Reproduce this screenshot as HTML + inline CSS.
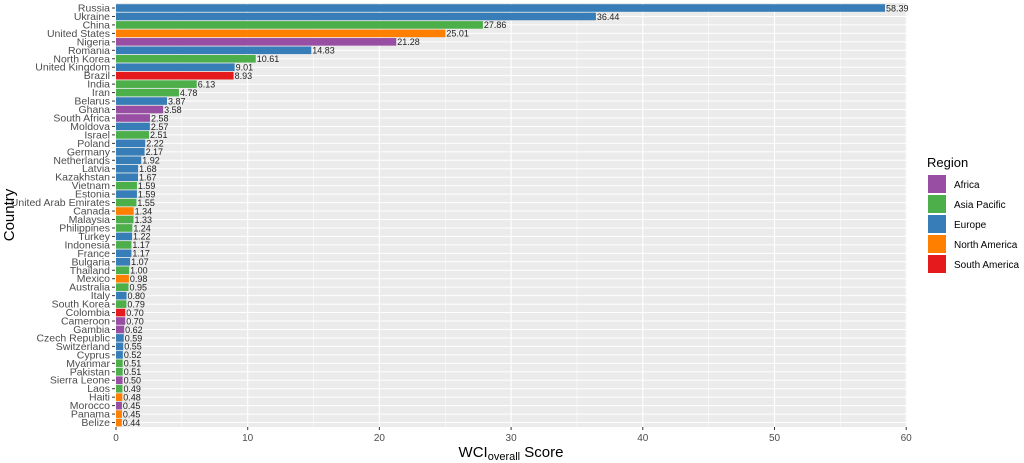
<!DOCTYPE html>
<html><head><meta charset="utf-8"><style>
body{margin:0;background:#fff}
svg{display:block;font-family:"Liberation Sans",Arial,sans-serif}
.l{font-size:10.5px;fill:#4d4d4d;text-anchor:end}
.v{font-size:9px;fill:#222}
.e{fill:#377EB8}.a{fill:#4DAF4A}.n{fill:#FF7F00}.f{fill:#984EA3}.s{fill:#E41A1C}
</style></head><body>
<svg width="1024" height="463" viewBox="0 0 1024 463">
<rect x="116" y="3" width="791" height="424" fill="#EBEBEB"/>
<g stroke="#fff" stroke-width="0.5">
<line x1="181.9" y1="3" x2="181.9" y2="427"/><line x1="313.6" y1="3" x2="313.6" y2="427"/><line x1="445.3" y1="3" x2="445.3" y2="427"/><line x1="577" y1="3" x2="577" y2="427"/><line x1="708.7" y1="3" x2="708.7" y2="427"/><line x1="840.4" y1="3" x2="840.4" y2="427"/>
</g>
<g stroke="#fff" stroke-width="1.1">
<line x1="116" y1="3" x2="116" y2="427"/><line x1="247.7" y1="3" x2="247.7" y2="427"/><line x1="379.4" y1="3" x2="379.4" y2="427"/><line x1="511.1" y1="3" x2="511.1" y2="427"/><line x1="642.8" y1="3" x2="642.8" y2="427"/><line x1="774.5" y1="3" x2="774.5" y2="427"/><line x1="906.2" y1="3" x2="906.2" y2="427"/>
</g>
<g stroke="#fff" stroke-width="1">
<line x1="116" x2="907" y1="8" y2="8"/><line x1="116" x2="907" y1="16.46" y2="16.46"/><line x1="116" x2="907" y1="24.92" y2="24.92"/><line x1="116" x2="907" y1="33.38" y2="33.38"/><line x1="116" x2="907" y1="41.84" y2="41.84"/><line x1="116" x2="907" y1="50.3" y2="50.3"/><line x1="116" x2="907" y1="58.76" y2="58.76"/><line x1="116" x2="907" y1="67.22" y2="67.22"/><line x1="116" x2="907" y1="75.68" y2="75.68"/><line x1="116" x2="907" y1="84.14" y2="84.14"/><line x1="116" x2="907" y1="92.6" y2="92.6"/><line x1="116" x2="907" y1="101.06" y2="101.06"/><line x1="116" x2="907" y1="109.52" y2="109.52"/><line x1="116" x2="907" y1="117.98" y2="117.98"/><line x1="116" x2="907" y1="126.44" y2="126.44"/><line x1="116" x2="907" y1="134.9" y2="134.9"/><line x1="116" x2="907" y1="143.36" y2="143.36"/><line x1="116" x2="907" y1="151.82" y2="151.82"/><line x1="116" x2="907" y1="160.28" y2="160.28"/><line x1="116" x2="907" y1="168.74" y2="168.74"/><line x1="116" x2="907" y1="177.2" y2="177.2"/><line x1="116" x2="907" y1="185.66" y2="185.66"/><line x1="116" x2="907" y1="194.12" y2="194.12"/><line x1="116" x2="907" y1="202.58" y2="202.58"/><line x1="116" x2="907" y1="211.04" y2="211.04"/><line x1="116" x2="907" y1="219.5" y2="219.5"/><line x1="116" x2="907" y1="227.96" y2="227.96"/><line x1="116" x2="907" y1="236.42" y2="236.42"/><line x1="116" x2="907" y1="244.88" y2="244.88"/><line x1="116" x2="907" y1="253.34" y2="253.34"/><line x1="116" x2="907" y1="261.8" y2="261.8"/><line x1="116" x2="907" y1="270.26" y2="270.26"/><line x1="116" x2="907" y1="278.72" y2="278.72"/><line x1="116" x2="907" y1="287.18" y2="287.18"/><line x1="116" x2="907" y1="295.64" y2="295.64"/><line x1="116" x2="907" y1="304.1" y2="304.1"/><line x1="116" x2="907" y1="312.56" y2="312.56"/><line x1="116" x2="907" y1="321.02" y2="321.02"/><line x1="116" x2="907" y1="329.48" y2="329.48"/><line x1="116" x2="907" y1="337.94" y2="337.94"/><line x1="116" x2="907" y1="346.4" y2="346.4"/><line x1="116" x2="907" y1="354.86" y2="354.86"/><line x1="116" x2="907" y1="363.32" y2="363.32"/><line x1="116" x2="907" y1="371.78" y2="371.78"/><line x1="116" x2="907" y1="380.24" y2="380.24"/><line x1="116" x2="907" y1="388.7" y2="388.7"/><line x1="116" x2="907" y1="397.16" y2="397.16"/><line x1="116" x2="907" y1="405.62" y2="405.62"/><line x1="116" x2="907" y1="414.08" y2="414.08"/><line x1="116" x2="907" y1="422.54" y2="422.54"/>
</g>
<g transform="translate(0,8)"><text x="110" y="3.5" class="l">Russia</text><line x1="112" x2="115" stroke="#333"/><g transform="translate(116,0) scale(13.17,1)"><rect y="-3.8" height="7.6" width="58.39" class="e"/><g transform="translate(58.39,0) scale(.07593,1)"><text x="1" y="3.3" class="v">58.39</text></g></g></g>
<g transform="translate(0,16.46)"><text x="110" y="3.5" class="l">Ukraine</text><line x1="112" x2="115" stroke="#333"/><g transform="translate(116,0) scale(13.17,1)"><rect y="-3.8" height="7.6" width="36.44" class="e"/><g transform="translate(36.44,0) scale(.07593,1)"><text x="1" y="3.3" class="v">36.44</text></g></g></g>
<g transform="translate(0,24.92)"><text x="110" y="3.5" class="l">China</text><line x1="112" x2="115" stroke="#333"/><g transform="translate(116,0) scale(13.17,1)"><rect y="-3.8" height="7.6" width="27.86" class="a"/><g transform="translate(27.86,0) scale(.07593,1)"><text x="1" y="3.3" class="v">27.86</text></g></g></g>
<g transform="translate(0,33.38)"><text x="110" y="3.5" class="l">United States</text><line x1="112" x2="115" stroke="#333"/><g transform="translate(116,0) scale(13.17,1)"><rect y="-3.8" height="7.6" width="25.01" class="n"/><g transform="translate(25.01,0) scale(.07593,1)"><text x="1" y="3.3" class="v">25.01</text></g></g></g>
<g transform="translate(0,41.84)"><text x="110" y="3.5" class="l">Nigeria</text><line x1="112" x2="115" stroke="#333"/><g transform="translate(116,0) scale(13.17,1)"><rect y="-3.8" height="7.6" width="21.28" class="f"/><g transform="translate(21.28,0) scale(.07593,1)"><text x="1" y="3.3" class="v">21.28</text></g></g></g>
<g transform="translate(0,50.3)"><text x="110" y="3.5" class="l">Romania</text><line x1="112" x2="115" stroke="#333"/><g transform="translate(116,0) scale(13.17,1)"><rect y="-3.8" height="7.6" width="14.83" class="e"/><g transform="translate(14.83,0) scale(.07593,1)"><text x="1" y="3.3" class="v">14.83</text></g></g></g>
<g transform="translate(0,58.76)"><text x="110" y="3.5" class="l">North Korea</text><line x1="112" x2="115" stroke="#333"/><g transform="translate(116,0) scale(13.17,1)"><rect y="-3.8" height="7.6" width="10.61" class="a"/><g transform="translate(10.61,0) scale(.07593,1)"><text x="1" y="3.3" class="v">10.61</text></g></g></g>
<g transform="translate(0,67.22)"><text x="110" y="3.5" class="l">United Kingdom</text><line x1="112" x2="115" stroke="#333"/><g transform="translate(116,0) scale(13.17,1)"><rect y="-3.8" height="7.6" width="9.01" class="e"/><g transform="translate(9.01,0) scale(.07593,1)"><text x="1" y="3.3" class="v">9.01</text></g></g></g>
<g transform="translate(0,75.68)"><text x="110" y="3.5" class="l">Brazil</text><line x1="112" x2="115" stroke="#333"/><g transform="translate(116,0) scale(13.17,1)"><rect y="-3.8" height="7.6" width="8.93" class="s"/><g transform="translate(8.93,0) scale(.07593,1)"><text x="1" y="3.3" class="v">8.93</text></g></g></g>
<g transform="translate(0,84.14)"><text x="110" y="3.5" class="l">India</text><line x1="112" x2="115" stroke="#333"/><g transform="translate(116,0) scale(13.17,1)"><rect y="-3.8" height="7.6" width="6.13" class="a"/><g transform="translate(6.13,0) scale(.07593,1)"><text x="1" y="3.3" class="v">6.13</text></g></g></g>
<g transform="translate(0,92.6)"><text x="110" y="3.5" class="l">Iran</text><line x1="112" x2="115" stroke="#333"/><g transform="translate(116,0) scale(13.17,1)"><rect y="-3.8" height="7.6" width="4.78" class="a"/><g transform="translate(4.78,0) scale(.07593,1)"><text x="1" y="3.3" class="v">4.78</text></g></g></g>
<g transform="translate(0,101.06)"><text x="110" y="3.5" class="l">Belarus</text><line x1="112" x2="115" stroke="#333"/><g transform="translate(116,0) scale(13.17,1)"><rect y="-3.8" height="7.6" width="3.87" class="e"/><g transform="translate(3.87,0) scale(.07593,1)"><text x="1" y="3.3" class="v">3.87</text></g></g></g>
<g transform="translate(0,109.52)"><text x="110" y="3.5" class="l">Ghana</text><line x1="112" x2="115" stroke="#333"/><g transform="translate(116,0) scale(13.17,1)"><rect y="-3.8" height="7.6" width="3.58" class="f"/><g transform="translate(3.58,0) scale(.07593,1)"><text x="1" y="3.3" class="v">3.58</text></g></g></g>
<g transform="translate(0,117.98)"><text x="110" y="3.5" class="l">South Africa</text><line x1="112" x2="115" stroke="#333"/><g transform="translate(116,0) scale(13.17,1)"><rect y="-3.8" height="7.6" width="2.58" class="f"/><g transform="translate(2.58,0) scale(.07593,1)"><text x="1" y="3.3" class="v">2.58</text></g></g></g>
<g transform="translate(0,126.44)"><text x="110" y="3.5" class="l">Moldova</text><line x1="112" x2="115" stroke="#333"/><g transform="translate(116,0) scale(13.17,1)"><rect y="-3.8" height="7.6" width="2.57" class="e"/><g transform="translate(2.57,0) scale(.07593,1)"><text x="1" y="3.3" class="v">2.57</text></g></g></g>
<g transform="translate(0,134.9)"><text x="110" y="3.5" class="l">Israel</text><line x1="112" x2="115" stroke="#333"/><g transform="translate(116,0) scale(13.17,1)"><rect y="-3.8" height="7.6" width="2.51" class="a"/><g transform="translate(2.51,0) scale(.07593,1)"><text x="1" y="3.3" class="v">2.51</text></g></g></g>
<g transform="translate(0,143.36)"><text x="110" y="3.5" class="l">Poland</text><line x1="112" x2="115" stroke="#333"/><g transform="translate(116,0) scale(13.17,1)"><rect y="-3.8" height="7.6" width="2.22" class="e"/><g transform="translate(2.22,0) scale(.07593,1)"><text x="1" y="3.3" class="v">2.22</text></g></g></g>
<g transform="translate(0,151.82)"><text x="110" y="3.5" class="l">Germany</text><line x1="112" x2="115" stroke="#333"/><g transform="translate(116,0) scale(13.17,1)"><rect y="-3.8" height="7.6" width="2.17" class="e"/><g transform="translate(2.17,0) scale(.07593,1)"><text x="1" y="3.3" class="v">2.17</text></g></g></g>
<g transform="translate(0,160.28)"><text x="110" y="3.5" class="l">Netherlands</text><line x1="112" x2="115" stroke="#333"/><g transform="translate(116,0) scale(13.17,1)"><rect y="-3.8" height="7.6" width="1.92" class="e"/><g transform="translate(1.92,0) scale(.07593,1)"><text x="1" y="3.3" class="v">1.92</text></g></g></g>
<g transform="translate(0,168.74)"><text x="110" y="3.5" class="l">Latvia</text><line x1="112" x2="115" stroke="#333"/><g transform="translate(116,0) scale(13.17,1)"><rect y="-3.8" height="7.6" width="1.68" class="e"/><g transform="translate(1.68,0) scale(.07593,1)"><text x="1" y="3.3" class="v">1.68</text></g></g></g>
<g transform="translate(0,177.2)"><text x="110" y="3.5" class="l">Kazakhstan</text><line x1="112" x2="115" stroke="#333"/><g transform="translate(116,0) scale(13.17,1)"><rect y="-3.8" height="7.6" width="1.67" class="e"/><g transform="translate(1.67,0) scale(.07593,1)"><text x="1" y="3.3" class="v">1.67</text></g></g></g>
<g transform="translate(0,185.66)"><text x="110" y="3.5" class="l">Vietnam</text><line x1="112" x2="115" stroke="#333"/><g transform="translate(116,0) scale(13.17,1)"><rect y="-3.8" height="7.6" width="1.59" class="a"/><g transform="translate(1.59,0) scale(.07593,1)"><text x="1" y="3.3" class="v">1.59</text></g></g></g>
<g transform="translate(0,194.12)"><text x="110" y="3.5" class="l">Estonia</text><line x1="112" x2="115" stroke="#333"/><g transform="translate(116,0) scale(13.17,1)"><rect y="-3.8" height="7.6" width="1.59" class="e"/><g transform="translate(1.59,0) scale(.07593,1)"><text x="1" y="3.3" class="v">1.59</text></g></g></g>
<g transform="translate(0,202.58)"><text x="110" y="3.5" class="l">United Arab Emirates</text><line x1="112" x2="115" stroke="#333"/><g transform="translate(116,0) scale(13.17,1)"><rect y="-3.8" height="7.6" width="1.55" class="a"/><g transform="translate(1.55,0) scale(.07593,1)"><text x="1" y="3.3" class="v">1.55</text></g></g></g>
<g transform="translate(0,211.04)"><text x="110" y="3.5" class="l">Canada</text><line x1="112" x2="115" stroke="#333"/><g transform="translate(116,0) scale(13.17,1)"><rect y="-3.8" height="7.6" width="1.34" class="n"/><g transform="translate(1.34,0) scale(.07593,1)"><text x="1" y="3.3" class="v">1.34</text></g></g></g>
<g transform="translate(0,219.5)"><text x="110" y="3.5" class="l">Malaysia</text><line x1="112" x2="115" stroke="#333"/><g transform="translate(116,0) scale(13.17,1)"><rect y="-3.8" height="7.6" width="1.33" class="a"/><g transform="translate(1.33,0) scale(.07593,1)"><text x="1" y="3.3" class="v">1.33</text></g></g></g>
<g transform="translate(0,227.96)"><text x="110" y="3.5" class="l">Philippines</text><line x1="112" x2="115" stroke="#333"/><g transform="translate(116,0) scale(13.17,1)"><rect y="-3.8" height="7.6" width="1.24" class="a"/><g transform="translate(1.24,0) scale(.07593,1)"><text x="1" y="3.3" class="v">1.24</text></g></g></g>
<g transform="translate(0,236.42)"><text x="110" y="3.5" class="l">Turkey</text><line x1="112" x2="115" stroke="#333"/><g transform="translate(116,0) scale(13.17,1)"><rect y="-3.8" height="7.6" width="1.22" class="e"/><g transform="translate(1.22,0) scale(.07593,1)"><text x="1" y="3.3" class="v">1.22</text></g></g></g>
<g transform="translate(0,244.88)"><text x="110" y="3.5" class="l">Indonesia</text><line x1="112" x2="115" stroke="#333"/><g transform="translate(116,0) scale(13.17,1)"><rect y="-3.8" height="7.6" width="1.17" class="a"/><g transform="translate(1.17,0) scale(.07593,1)"><text x="1" y="3.3" class="v">1.17</text></g></g></g>
<g transform="translate(0,253.34)"><text x="110" y="3.5" class="l">France</text><line x1="112" x2="115" stroke="#333"/><g transform="translate(116,0) scale(13.17,1)"><rect y="-3.8" height="7.6" width="1.17" class="e"/><g transform="translate(1.17,0) scale(.07593,1)"><text x="1" y="3.3" class="v">1.17</text></g></g></g>
<g transform="translate(0,261.8)"><text x="110" y="3.5" class="l">Bulgaria</text><line x1="112" x2="115" stroke="#333"/><g transform="translate(116,0) scale(13.17,1)"><rect y="-3.8" height="7.6" width="1.07" class="e"/><g transform="translate(1.07,0) scale(.07593,1)"><text x="1" y="3.3" class="v">1.07</text></g></g></g>
<g transform="translate(0,270.26)"><text x="110" y="3.5" class="l">Thailand</text><line x1="112" x2="115" stroke="#333"/><g transform="translate(116,0) scale(13.17,1)"><rect y="-3.8" height="7.6" width="1.00" class="a"/><g transform="translate(1.00,0) scale(.07593,1)"><text x="1" y="3.3" class="v">1.00</text></g></g></g>
<g transform="translate(0,278.72)"><text x="110" y="3.5" class="l">Mexico</text><line x1="112" x2="115" stroke="#333"/><g transform="translate(116,0) scale(13.17,1)"><rect y="-3.8" height="7.6" width="0.98" class="n"/><g transform="translate(0.98,0) scale(.07593,1)"><text x="1" y="3.3" class="v">0.98</text></g></g></g>
<g transform="translate(0,287.18)"><text x="110" y="3.5" class="l">Australia</text><line x1="112" x2="115" stroke="#333"/><g transform="translate(116,0) scale(13.17,1)"><rect y="-3.8" height="7.6" width="0.95" class="a"/><g transform="translate(0.95,0) scale(.07593,1)"><text x="1" y="3.3" class="v">0.95</text></g></g></g>
<g transform="translate(0,295.64)"><text x="110" y="3.5" class="l">Italy</text><line x1="112" x2="115" stroke="#333"/><g transform="translate(116,0) scale(13.17,1)"><rect y="-3.8" height="7.6" width="0.80" class="e"/><g transform="translate(0.80,0) scale(.07593,1)"><text x="1" y="3.3" class="v">0.80</text></g></g></g>
<g transform="translate(0,304.1)"><text x="110" y="3.5" class="l">South Korea</text><line x1="112" x2="115" stroke="#333"/><g transform="translate(116,0) scale(13.17,1)"><rect y="-3.8" height="7.6" width="0.79" class="a"/><g transform="translate(0.79,0) scale(.07593,1)"><text x="1" y="3.3" class="v">0.79</text></g></g></g>
<g transform="translate(0,312.56)"><text x="110" y="3.5" class="l">Colombia</text><line x1="112" x2="115" stroke="#333"/><g transform="translate(116,0) scale(13.17,1)"><rect y="-3.8" height="7.6" width="0.70" class="s"/><g transform="translate(0.70,0) scale(.07593,1)"><text x="1" y="3.3" class="v">0.70</text></g></g></g>
<g transform="translate(0,321.02)"><text x="110" y="3.5" class="l">Cameroon</text><line x1="112" x2="115" stroke="#333"/><g transform="translate(116,0) scale(13.17,1)"><rect y="-3.8" height="7.6" width="0.70" class="f"/><g transform="translate(0.70,0) scale(.07593,1)"><text x="1" y="3.3" class="v">0.70</text></g></g></g>
<g transform="translate(0,329.48)"><text x="110" y="3.5" class="l">Gambia</text><line x1="112" x2="115" stroke="#333"/><g transform="translate(116,0) scale(13.17,1)"><rect y="-3.8" height="7.6" width="0.62" class="f"/><g transform="translate(0.62,0) scale(.07593,1)"><text x="1" y="3.3" class="v">0.62</text></g></g></g>
<g transform="translate(0,337.94)"><text x="110" y="3.5" class="l">Czech Republic</text><line x1="112" x2="115" stroke="#333"/><g transform="translate(116,0) scale(13.17,1)"><rect y="-3.8" height="7.6" width="0.59" class="e"/><g transform="translate(0.59,0) scale(.07593,1)"><text x="1" y="3.3" class="v">0.59</text></g></g></g>
<g transform="translate(0,346.4)"><text x="110" y="3.5" class="l">Switzerland</text><line x1="112" x2="115" stroke="#333"/><g transform="translate(116,0) scale(13.17,1)"><rect y="-3.8" height="7.6" width="0.55" class="e"/><g transform="translate(0.55,0) scale(.07593,1)"><text x="1" y="3.3" class="v">0.55</text></g></g></g>
<g transform="translate(0,354.86)"><text x="110" y="3.5" class="l">Cyprus</text><line x1="112" x2="115" stroke="#333"/><g transform="translate(116,0) scale(13.17,1)"><rect y="-3.8" height="7.6" width="0.52" class="e"/><g transform="translate(0.52,0) scale(.07593,1)"><text x="1" y="3.3" class="v">0.52</text></g></g></g>
<g transform="translate(0,363.32)"><text x="110" y="3.5" class="l">Myanmar</text><line x1="112" x2="115" stroke="#333"/><g transform="translate(116,0) scale(13.17,1)"><rect y="-3.8" height="7.6" width="0.51" class="a"/><g transform="translate(0.51,0) scale(.07593,1)"><text x="1" y="3.3" class="v">0.51</text></g></g></g>
<g transform="translate(0,371.78)"><text x="110" y="3.5" class="l">Pakistan</text><line x1="112" x2="115" stroke="#333"/><g transform="translate(116,0) scale(13.17,1)"><rect y="-3.8" height="7.6" width="0.51" class="a"/><g transform="translate(0.51,0) scale(.07593,1)"><text x="1" y="3.3" class="v">0.51</text></g></g></g>
<g transform="translate(0,380.24)"><text x="110" y="3.5" class="l">Sierra Leone</text><line x1="112" x2="115" stroke="#333"/><g transform="translate(116,0) scale(13.17,1)"><rect y="-3.8" height="7.6" width="0.50" class="f"/><g transform="translate(0.50,0) scale(.07593,1)"><text x="1" y="3.3" class="v">0.50</text></g></g></g>
<g transform="translate(0,388.7)"><text x="110" y="3.5" class="l">Laos</text><line x1="112" x2="115" stroke="#333"/><g transform="translate(116,0) scale(13.17,1)"><rect y="-3.8" height="7.6" width="0.49" class="a"/><g transform="translate(0.49,0) scale(.07593,1)"><text x="1" y="3.3" class="v">0.49</text></g></g></g>
<g transform="translate(0,397.16)"><text x="110" y="3.5" class="l">Haiti</text><line x1="112" x2="115" stroke="#333"/><g transform="translate(116,0) scale(13.17,1)"><rect y="-3.8" height="7.6" width="0.48" class="n"/><g transform="translate(0.48,0) scale(.07593,1)"><text x="1" y="3.3" class="v">0.48</text></g></g></g>
<g transform="translate(0,405.62)"><text x="110" y="3.5" class="l">Morocco</text><line x1="112" x2="115" stroke="#333"/><g transform="translate(116,0) scale(13.17,1)"><rect y="-3.8" height="7.6" width="0.45" class="f"/><g transform="translate(0.45,0) scale(.07593,1)"><text x="1" y="3.3" class="v">0.45</text></g></g></g>
<g transform="translate(0,414.08)"><text x="110" y="3.5" class="l">Panama</text><line x1="112" x2="115" stroke="#333"/><g transform="translate(116,0) scale(13.17,1)"><rect y="-3.8" height="7.6" width="0.45" class="n"/><g transform="translate(0.45,0) scale(.07593,1)"><text x="1" y="3.3" class="v">0.45</text></g></g></g>
<g transform="translate(0,422.54)"><text x="110" y="3.5" class="l">Belize</text><line x1="112" x2="115" stroke="#333"/><g transform="translate(116,0) scale(13.17,1)"><rect y="-3.8" height="7.6" width="0.44" class="n"/><g transform="translate(0.44,0) scale(.07593,1)"><text x="1" y="3.3" class="v">0.44</text></g></g></g>
<g stroke="#333"><line x1="116" x2="116" y1="427" y2="430"/><line x1="247.7" x2="247.7" y1="427" y2="430"/><line x1="379.4" x2="379.4" y1="427" y2="430"/><line x1="511.1" x2="511.1" y1="427" y2="430"/><line x1="642.8" x2="642.8" y1="427" y2="430"/><line x1="774.5" x2="774.5" y1="427" y2="430"/><line x1="906.2" x2="906.2" y1="427" y2="430"/></g>
<g font-size="10" fill="#4d4d4d" text-anchor="middle"><text x="116" y="441">0</text><text x="247.7" y="441">10</text><text x="379.4" y="441">20</text><text x="511.1" y="441">30</text><text x="642.8" y="441">40</text><text x="774.5" y="441">50</text><text x="906.2" y="441">60</text></g>
<text x="511" y="457" font-size="15" text-anchor="middle" fill="#000">WCI<tspan font-size="11" dy="3">overall</tspan><tspan dy="-3"> Score</tspan></text>
<text transform="translate(14,215) rotate(-90)" font-size="15" text-anchor="middle" fill="#000">Country</text>
<text x="927" y="167" font-size="13" fill="#000">Region</text>
<rect x="928" y="175" width="18" height="18" class="f"/><text x="954" y="188" font-size="10" fill="#000">Africa</text>
<rect x="928" y="195" width="18" height="18" class="a"/><text x="954" y="208" font-size="10" fill="#000">Asia Pacific</text>
<rect x="928" y="215" width="18" height="18" class="e"/><text x="954" y="228" font-size="10" fill="#000">Europe</text>
<rect x="928" y="235" width="18" height="18" class="n"/><text x="954" y="248" font-size="10" fill="#000">North America</text>
<rect x="928" y="255" width="18" height="18" class="s"/><text x="954" y="268" font-size="10" fill="#000">South America</text>
</svg>
</body></html>
